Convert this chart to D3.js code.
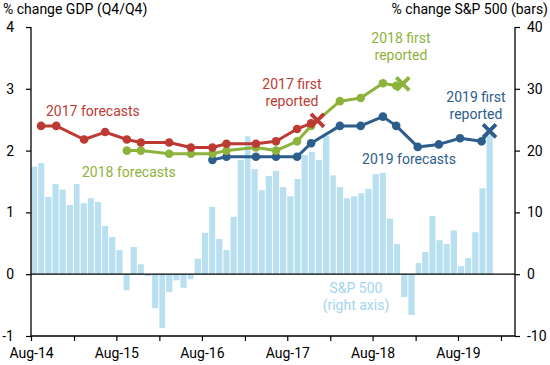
<!DOCTYPE html>
<html>
<head>
<meta charset="utf-8">
<script src="https://cdn.jsdelivr.net/npm/d3@7"></script>
<style>
  html, body { margin: 0; padding: 0; background: #fff; }
  svg { display: block; font-family: Roboto, "Noto Sans", sans-serif; }
</style>
</head>
<body>
<svg id="chart" width="550" height="365"></svg>
<script>
// ---------- DATA ----------
// Monthly S&P 500 % change (bars, right axis), Aug-14 .. Dec-19
const barStart = "2014-08-01";
const sp500 = [17.4, 18.0, 12.5, 14.6, 13.7, 11.2, 14.6, 11.5, 12.3, 11.7,
  7.8, 6.0, 3.9, -2.6, 4.4, 1.6, -0.3, -5.5, -8.7, -2.9,
  -1.0, -2.2, -0.8, 2.5, 6.7, 10.9, 5.7, 3.9, 9.3, 18.5,
  22.3, 17.0, 13.6, 15.9, 16.7, 14.1, 12.6, 15.4, 19.3, 19.8,
  18.5, 22.4, 16.0, 14.1, 12.3, 12.6, 13.1, 13.8, 16.2, 16.4,
  9.0, 4.9, -3.7, -6.6, 1.8, 3.6, 9.4, 5.5, 4.9, 7.1,
  1.3, 2.6, 6.8, 13.9, 22.8];

// Forecast dates and GDP forecasts (left axis)
const dates2017 = ["2014-09-13", "2014-11-17", "2015-03-16", "2015-06-14", "2015-09-15", "2015-11-14",
  "2016-03-14", "2016-06-15", "2016-09-15", "2016-11-14", "2017-03-20", "2017-06-14", "2017-09-12", "2017-11-11"];
const fc2017 = [2.4, 2.4, 2.18, 2.3, 2.18, 2.13, 2.13, 2.05, 2.05, 2.11, 2.11, 2.15, 2.35, 2.44];
const first2017 = { date: "2017-12-08", value: 2.49 };

const dates2018 = ["2015-09-15", "2015-11-14", "2016-03-14", "2016-06-15", "2016-09-15", "2016-11-14",
  "2017-03-20", "2017-06-14", "2017-09-12", "2017-11-11", "2018-03-14", "2018-06-11", "2018-09-14", "2018-11-10"];
const fc2018 = [2.0, 2.0, 1.95, 1.95, 1.95, 2.0, 2.05, 2.0, 2.15, 2.4, 2.8, 2.85, 3.09, 3.05];
const first2018 = { date: "2018-12-08", value: 3.08 };

const dates2019 = ["2016-09-15", "2016-11-14", "2017-03-20", "2017-06-14", "2017-09-12", "2017-11-11",
  "2018-03-14", "2018-06-11", "2018-09-14", "2018-11-10", "2019-02-10", "2019-05-11", "2019-08-10", "2019-11-10"];
const fc2019 = [1.85, 1.9, 1.9, 1.9, 1.9, 2.12, 2.4, 2.4, 2.55, 2.4, 2.06, 2.1, 2.2, 2.15];
const first2019 = { date: "2019-12-14", value: 2.32 };

const leftTicks = [-1, 0, 1, 2, 3, 4];
const rightTicks = [-10, 0, 10, 20, 30, 40];
const xTickDates = ["2014-08-01", "2015-02-01", "2015-08-01", "2016-02-01", "2016-08-01", "2017-02-01",
  "2017-08-01", "2018-02-01", "2018-08-01", "2019-02-01", "2019-08-01", "2020-02-01"];
const xDomain = ["2014-08-01", "2020-04-01"];

// ---------- STYLE ----------
const C = { red: "#bd3a32", green: "#8db33c", blue: "#2d5d8a", bar: "#b9e0f0", barText: "#a3d5ee" };

const parse = d3.utcParse("%Y-%m-%d");
const svg = d3.select("#chart");

const x = d3.scaleUtc().domain(xDomain.map(parse)).range([31, 515]);
const yL = d3.scaleLinear().domain([-1, 4]).range([336, 27]);
const yR = d3.scaleLinear().domain([-10, 40]).range([336, 27]);

// Bars
const bars = sp500.map((v, i) => ({ d: d3.utcMonth.offset(parse(barStart), i), v }));
svg.append("g").selectAll("rect").data(bars).join("rect")
  .attr("x", d => x(d.d))
  .attr("width", d => x(d3.utcMonth.offset(d.d, 1)) - x(d.d) - 1)
  .attr("y", d => yR(Math.max(0, d.v)))
  .attr("height", d => Math.abs(yR(d.v) - yR(0)))
  .attr("fill", C.bar);

// Zero line
svg.append("line")
  .attr("x1", x.range()[0]).attr("x2", x.range()[1])
  .attr("y1", yL(0)).attr("y2", yL(0))
  .attr("stroke", "#000").attr("stroke-width", 1.3);

// Axes
const fontSize = 14;
const plain = d => String(d);
const gL = svg.append("g").attr("transform", `translate(${x.range()[0]},0)`)
  .call(d3.axisLeft(yL).tickValues(leftTicks).tickSize(5).tickPadding(12).tickFormat(plain));
const gR = svg.append("g").attr("transform", `translate(${x.range()[1]},0)`)
  .call(d3.axisRight(yR).tickValues(rightTicks).tickSize(5).tickPadding(7).tickFormat(plain));
const fmt = d3.utcFormat("%b-%y");
const gX = svg.append("g").attr("transform", `translate(0,${yL(-1)})`)
  .call(d3.axisBottom(x).tickValues(xTickDates.map(parse)).tickSize(5).tickPadding(7)
    .tickFormat(d => d.getUTCMonth() === 7 ? fmt(d) : ""));
[gL, gR, gX].forEach(g => {
  g.select(".domain").attr("stroke", "#000").attr("stroke-width", 1.3);
  g.selectAll(".tick line").attr("stroke", "#000").attr("stroke-width", 1.2);
  g.selectAll("text").attr("font-size", fontSize).attr("fill", "#000")
    .attr("font-family", "Roboto, sans-serif");
});
gL.select(".domain").attr("d", `M0,${yL(4)}V${yL(-1)}`);
gR.select(".domain").attr("d", `M0,${yR(40)}V${yR(-10)}`);
gX.select(".domain").attr("d", `M${x.range()[0]},0H${x.range()[1]}`);

// Axis titles
svg.append("text").attr("x", 3).attr("y", 14).attr("font-size", 14).attr("fill", "#000")
  .text("% change GDP (Q4/Q4)");
svg.append("text").attr("x", 548).attr("y", 14).attr("font-size", 14).attr("fill", "#000")
  .attr("text-anchor", "end").text("% change S&P 500 (bars)");

// Lines
function drawSeries(dates, vals, first, color) {
  const pts = dates.map((d, i) => ({ d: parse(d), v: vals[i] }));
  const all = pts.concat([{ d: parse(first.date), v: first.value }]);
  const line = d3.line().x(p => x(p.d)).y(p => yL(p.v));
  const g = svg.append("g");
  g.append("path").attr("d", line(all)).attr("fill", "none")
    .attr("stroke", color).attr("stroke-width", 3).attr("stroke-linejoin", "round");
  g.selectAll("circle").data(pts).join("circle")
    .attr("cx", p => x(p.d)).attr("cy", p => yL(p.v)).attr("r", 4.3).attr("fill", color);
  return g;
}
function drawX(first, color) {
  const cx = x(parse(first.date)), cy = yL(first.value), s = 6.5;
  svg.append("path")
    .attr("d", `M${cx - s},${cy - s}L${cx + s},${cy + s}M${cx - s},${cy + s}L${cx + s},${cy - s}`)
    .attr("stroke", color).attr("stroke-width", 3.8).attr("fill", "none");
}
drawSeries(dates2019, fc2019, first2019, C.blue);
drawSeries(dates2018, fc2018, first2018, C.green);
drawSeries(dates2017, fc2017, first2017, C.red);
drawX(first2019, C.blue);
drawX(first2018, C.green);
drawX(first2017, C.red);

// Labels
function label(lines, cx, y, color, anchor) {
  const t = svg.append("text").attr("font-size", 14).attr("fill", color)
    .attr("text-anchor", anchor || "middle");
  lines.forEach((s, i) => t.append("tspan").attr("x", cx).attr("y", y + i * 17).text(s));
}
label(["2017 forecasts"], 46, 116, C.red, "start");
label(["2018 forecasts"], 82, 177, C.green, "start");
label(["2017 first", "reported"], 292, 89, C.red);
label(["2018 first", "reported"], 401, 43, C.green);
label(["2019 first", "reported"], 476, 102, C.blue);
label(["2019 forecasts"], 409, 164, C.blue);
label(["S&P 500", "(right axis)"], 356, 293, C.barText);
</script>
</body>
</html>
